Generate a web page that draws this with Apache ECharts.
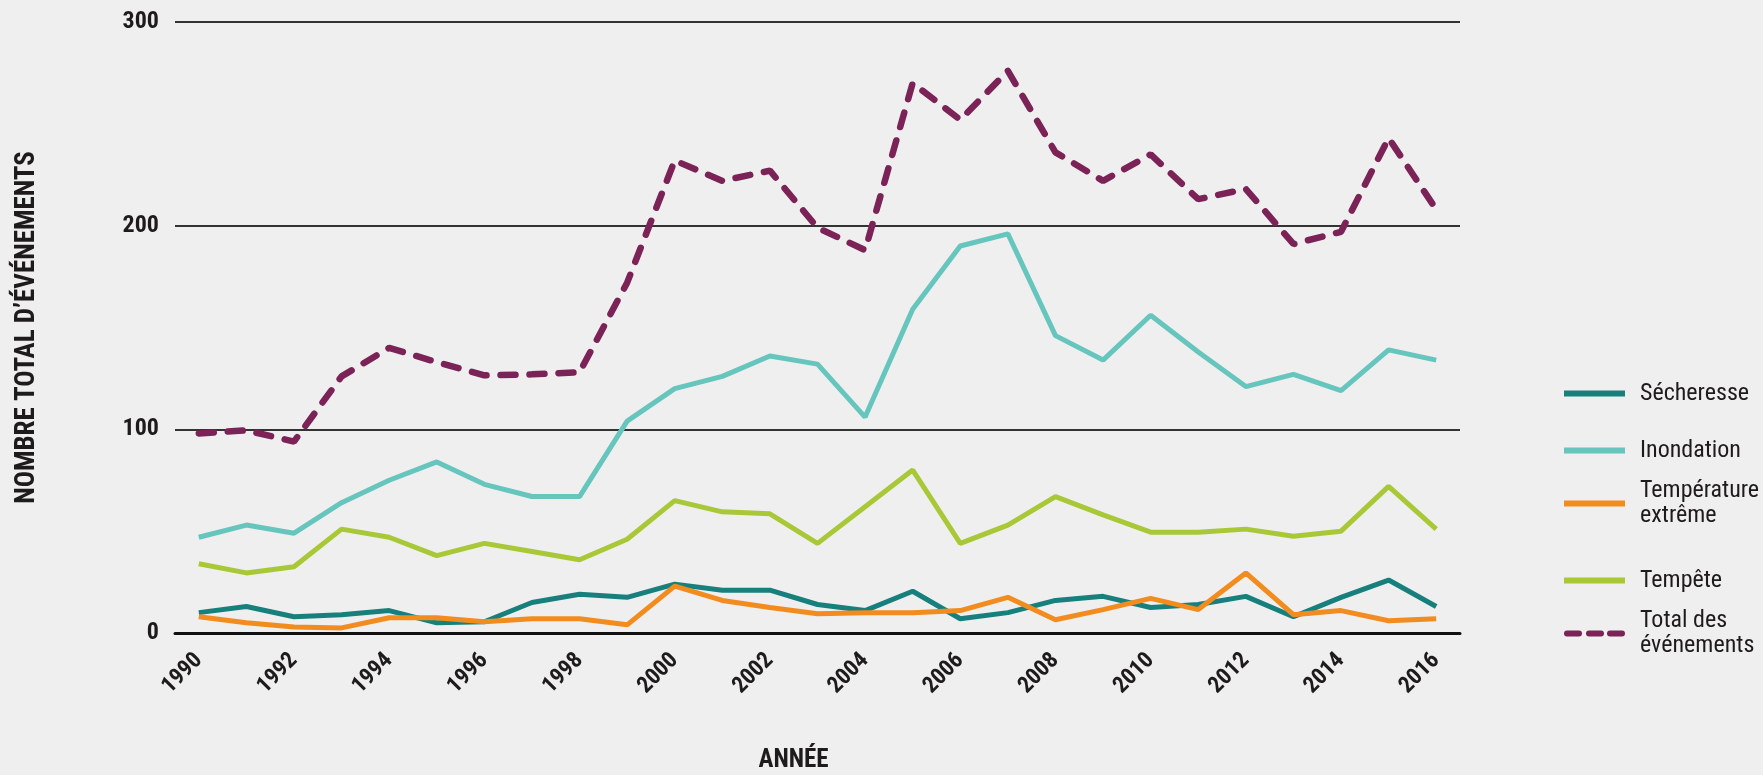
<!DOCTYPE html>
<html>
<head>
<meta charset="utf-8">
<script src="https://cdn.jsdelivr.net/npm/echarts@6/dist/echarts.min.js"></script>
<style>
  html, body { margin: 0; padding: 0; background: #efefef; }
  #chart { width: 1763px; height: 775px; }
</style>
</head>
<body>
<div id="chart"></div>
<script>
const years = ['1990','1991','1992','1993','1994','1995','1996','1997','1998','1999','2000','2001','2002','2003','2004','2005','2006','2007','2008','2009','2010','2011','2012','2013','2014','2015','2016'];
const secheresse = [10, 13, 8, 9, 11, 5, 5.5, 15, 19, 17.5, 24, 21, 21, 14, 11, 20.5, 7, 10, 16, 18, 12.5, 14, 18, 8, 17.5, 26, 13];
const inondation = [47, 53, 49, 64, 75, 84, 73, 67, 67, 104, 120, 126, 136, 132, 106, 159, 190, 196, 146, 134, 156, 138, 121, 127, 119, 139, 134];
const temperature = [8, 5, 3, 2.5, 7.5, 7.5, 5.5, 7, 7, 4, 23, 16, 12.5, 9.5, 10, 10, 11, 17.5, 6.5, 11.5, 17, 11.5, 29.5, 9, 11, 6, 7];
const tempete = [34, 29.5, 32.5, 51, 47, 38, 44, 40, 36, 46, 65, 59.5, 58.5, 44, 62, 80, 44, 53, 67, 58, 49.5, 49.5, 51, 47.5, 50, 72, 51];
const total = [98, 99.5, 94, 126, 140, 133, 126.5, 127, 128, 172, 232, 222, 227, 199, 188, 270, 252, 276, 236, 222, 235, 213, 218, 191, 197, 243, 208];
const yTicks = [0, 100, 200, 300];

const FONT = "'Liberation Sans Narrow', 'Roboto Condensed', 'Noto Sans Condensed', 'DejaVu Sans Condensed', sans-serif";
const TXT = '#1e1b1c';
const names = {
  sech: 'Sécheresse',
  inon: 'Inondation',
  temp: 'Température extrême',
  tempe: 'Tempête',
  tot: 'Total des événements'
};
const colors = {
  sech: '#17807d',
  inon: '#66c5bd',
  temp: '#f28c1e',
  tempe: '#a8c838',
  tot: '#7b2257'
};
const SOLID_ICON = 'path://M0,0 L61,0 L61,6 L0,6 Z';
const DASH_ICON = 'path://M3,0 L15,0 A3,3 0 0 1 15,6 L3,6 A3,3 0 0 1 3,0 Z M25,0 L37,0 A3,3 0 0 1 37,6 L25,6 A3,3 0 0 1 25,0 Z M46,0 L58,0 A3,3 0 0 1 58,6 L46,6 A3,3 0 0 1 46,0 Z';

function mkLegend(name, top, multi, icon) {
  return {
    show: true,
    orient: 'vertical',
    left: 1564,
    top: top,
    padding: 0,
    itemWidth: 61,
    itemHeight: 6,
    icon: icon,
    data: [name],
    selectedMode: false,
    formatter: function (n) {
      if (n === names.temp) return 'Température\nextrême';
      if (n === names.tot) return 'Total des\névénements';
      return n;
    },
    textStyle: {
      fontFamily: FONT,
      fontSize: 24,
      color: TXT,
      lineHeight: 25,
      padding: multi ? [25, 0, 0, 10] : [0, 0, 0, 10]
    }
  };
}

const chart = echarts.init(document.getElementById('chart'), null, { renderer: 'canvas' });
const option = {
  backgroundColor: '#efefef',
  animation: false,
  grid: { left: 175, right: 303, top: 22, bottom: 142, containLabel: false, outerBoundsMode: 'none' },
  legend: [
    mkLegend(names.sech, 381, false, SOLID_ICON),
    mkLegend(names.inon, 438, false, SOLID_ICON),
    mkLegend(names.temp, 466, true, SOLID_ICON),
    mkLegend(names.tempe, 568, false, SOLID_ICON),
    mkLegend(names.tot, 596, true, DASH_ICON)
  ],
  xAxis: {
    type: 'category',
    data: years,
    boundaryGap: true,
    axisTick: { show: false },
    axisLine: { show: true, lineStyle: { color: '#111', width: 3 } },
    axisLabel: {
      interval: 1,
      rotate: 45,
      margin: 24,
      fontFamily: FONT,
      fontWeight: 'bold',
      fontSize: 23,
      color: TXT
    },
    name: 'ANNÉE',
    nameLocation: 'middle',
    nameGap: 115,
    nameTextStyle: {
      fontFamily: FONT,
      fontWeight: 'bold',
      fontSize: 25,
      color: TXT,
      padding: [0, 48, 0, 0]
    }
  },
  yAxis: {
    type: 'value',
    min: yTicks[0],
    max: yTicks[yTicks.length - 1],
    interval: 100,
    axisLine: { show: false },
    axisTick: { show: false },
    splitLine: { show: true, lineStyle: { color: '#333', width: 2 } },
    axisLabel: {
      margin: 16,
      fontFamily: FONT,
      fontWeight: 'bold',
      fontSize: 24,
      color: TXT
    },
    name: 'NOMBRE TOTAL D’ÉVÉNEMENTS',
    nameLocation: 'middle',
    nameGap: 134,
    nameTextStyle: {
      fontFamily: FONT,
      fontWeight: 'bold',
      fontSize: 27,
      color: TXT
    }
  },
  series: [
    { name: names.inon, type: 'line', data: inondation, symbol: 'none', lineStyle: { color: colors.inon, width: 5 }, itemStyle: { color: colors.inon } },
    { name: names.tempe, type: 'line', data: tempete, symbol: 'none', lineStyle: { color: colors.tempe, width: 5 }, itemStyle: { color: colors.tempe } },
    { name: names.sech, type: 'line', data: secheresse, symbol: 'none', lineStyle: { color: colors.sech, width: 5 }, itemStyle: { color: colors.sech } },
    { name: names.temp, type: 'line', data: temperature, symbol: 'none', lineStyle: { color: colors.temp, width: 5 }, itemStyle: { color: colors.temp } },
    { name: names.tot, type: 'line', data: total, symbol: 'none', lineStyle: { color: colors.tot, width: 6.5, type: [15, 14], cap: 'round' }, itemStyle: { color: colors.tot } }
  ]
};
chart.setOption(option);
</script>
</body>
</html>
